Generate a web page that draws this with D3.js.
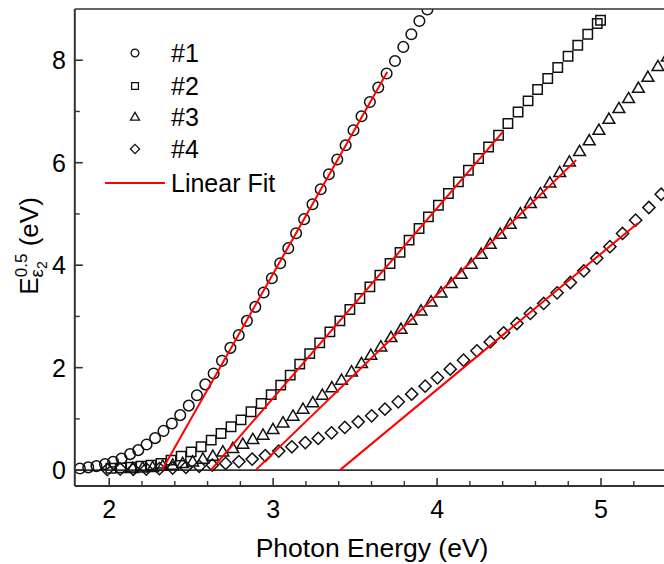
<!DOCTYPE html>
<html><head><meta charset="utf-8">
<script src="https://cdn.jsdelivr.net/npm/d3@7"></script>
<style>body{margin:0;background:#fff}svg{display:block}</style>
</head><body><svg id="c" width="664" height="564"></svg>
<script>
// ---------- data (Photon energy eV, E*eps2^0.5 eV) ----------
const s1 = [[1.821,0.033],[1.872,0.053],[1.922,0.078],[1.974,0.117],[2.024,0.162],[2.075,0.228],[2.127,0.312],[2.177,0.390],[2.228,0.501],[2.280,0.624],[2.331,0.765],[2.382,0.911],[2.433,1.073],[2.485,1.259],[2.535,1.460],[2.586,1.674],[2.637,1.887],[2.688,2.133],[2.739,2.386],[2.790,2.634],[2.840,2.913],[2.891,3.186],[2.942,3.467],[2.992,3.746],[3.043,4.039],[3.092,4.332],[3.140,4.624],[3.189,4.898],[3.240,5.190],[3.290,5.483],[3.340,5.776],[3.391,6.062],[3.442,6.341],[3.490,6.634],[3.539,6.907],[3.590,7.186],[3.641,7.467],[3.692,7.740],[3.743,7.986],[3.794,8.260],[3.843,8.507],[3.892,8.767],[3.941,8.989]];
const s2 = [[2.010,0.035],[2.072,0.043],[2.133,0.055],[2.194,0.078],[2.255,0.098],[2.316,0.131],[2.377,0.195],[2.439,0.273],[2.500,0.357],[2.561,0.455],[2.622,0.585],[2.682,0.716],[2.743,0.845],[2.804,0.981],[2.865,1.138],[2.927,1.301],[2.988,1.473],[3.046,1.659],[3.104,1.854],[3.162,2.068],[3.223,2.273],[3.284,2.484],[3.346,2.699],[3.407,2.913],[3.468,3.136],[3.529,3.350],[3.590,3.577],[3.651,3.805],[3.713,4.033],[3.774,4.250],[3.829,4.488],[3.890,4.716],[3.947,4.943],[4.008,5.171],[4.069,5.399],[4.130,5.625],[4.191,5.854],[4.253,6.082],[4.314,6.308],[4.375,6.537],[4.432,6.765],[4.494,6.991],[4.555,7.206],[4.613,7.428],[4.675,7.643],[4.736,7.857],[4.799,8.078],[4.858,8.293],[4.919,8.507],[4.977,8.716],[4.997,8.780]];
const s3 = [[2.143,0.035],[2.204,0.043],[2.265,0.053],[2.326,0.078],[2.387,0.098],[2.448,0.131],[2.509,0.162],[2.571,0.215],[2.632,0.273],[2.693,0.357],[2.754,0.423],[2.815,0.507],[2.876,0.599],[2.938,0.683],[2.999,0.794],[3.060,0.923],[3.121,1.054],[3.182,1.190],[3.242,1.317],[3.300,1.463],[3.358,1.610],[3.417,1.756],[3.478,1.918],[3.539,2.082],[3.596,2.244],[3.657,2.406],[3.719,2.589],[3.780,2.751],[3.841,2.927],[3.902,3.108],[3.963,3.284],[4.024,3.460],[4.086,3.643],[4.147,3.824],[4.208,4.020],[4.269,4.215],[4.324,4.410],[4.385,4.605],[4.446,4.800],[4.508,5.005],[4.569,5.204],[4.630,5.399],[4.688,5.606],[4.748,5.809],[4.807,6.016],[4.869,6.220],[4.928,6.429],[4.987,6.634],[5.048,6.849],[5.109,7.058],[5.168,7.253],[5.228,7.454],[5.286,7.668],[5.347,7.877],[5.405,8.064]];
const s4 = [[1.988,0.010],[2.067,0.020],[2.147,0.016],[2.226,0.020],[2.306,0.029],[2.387,0.039],[2.468,0.053],[2.549,0.074],[2.629,0.098],[2.710,0.131],[2.791,0.166],[2.872,0.215],[2.952,0.283],[3.034,0.371],[3.114,0.455],[3.196,0.537],[3.275,0.619],[3.356,0.728],[3.437,0.833],[3.519,0.942],[3.601,1.060],[3.682,1.190],[3.763,1.333],[3.845,1.483],[3.927,1.639],[4.002,1.801],[4.080,1.971],[4.161,2.146],[4.243,2.328],[4.324,2.503],[4.406,2.679],[4.487,2.862],[4.569,3.058],[4.650,3.253],[4.732,3.460],[4.813,3.662],[4.895,3.889],[4.974,4.137],[5.054,4.361],[5.131,4.619],[5.211,4.878],[5.292,5.126],[5.367,5.385],[5.443,5.649]];
// linear fits: [start point, end point]
const fit1 = [[2.322,0],[3.696,7.77]];
const fit2 = [[2.620,0],[4.405,6.615]];
const fit3 = [[2.893,0],[4.848,6.05]];
const fit4 = [[3.407,0],[5.226,4.825]];
const seriesNames = ["#1","#2","#3","#4"];
const fitName = "Linear Fit";
const xMajor = [2,3,4,5];
const xMinor = [2.2,2.4,2.6,2.8,3.2,3.4,3.6,3.8,4.2,4.4,4.6,4.8,5.2,5.4];
const yMajor = [0,2,4,6,8];
const yMinor = [1,3,5,7];
const xTitle = "Photon Energy (eV)";

// ---------- layout ----------
const svg = d3.select("#c");
const L = 74.8, T = 9, B = 486, R = 683;
const x = d3.scaleLinear().domain([1.79, 5.5]).range([L, R]);
const y = d3.scaleLinear().domain([-0.31, 9.0]).range([B, T]);
const axisColor = "#333";
const font = "Arial, 'Liberation Sans', Helvetica, sans-serif";

svg.append("defs").append("clipPath").attr("id","plot")
  .append("rect").attr("x",L).attr("y",T).attr("width",R-L).attr("height",B-T);

const shapes = {
  circle: r => `M${-r},0A${r},${r} 0 1,0 ${r},0A${r},${r} 0 1,0 ${-r},0Z`,
  square: r => `M${-r},${-r}H${r}V${r}H${-r}Z`,
  triangle: r => { const h = r*1.73; return `M0,${-h*0.6}L${r},${h*0.4}L${-r},${h*0.4}Z`; },
  diamond: r => `M0,${-r}L${r},0L0,${r}L${-r},0Z`
};
const kinds = ["circle","square","triangle","diamond"];
const markerSize = [5.3, 4.7, 5.9, 6.1];
const legendSize = [3.9, 3.4, 4.5, 4.6];

// zero line
svg.append("line").attr("x1",L).attr("x2",R).attr("y1",y(0)).attr("y2",y(0))
  .attr("stroke",axisColor).attr("stroke-width",1.6);

// markers
const g = svg.append("g").attr("clip-path","url(#plot)");
[s1,s2,s3,s4].forEach((s,i) => {
  g.selectAll(null).data(s).enter().append("path")
    .attr("d", shapes[kinds[i]](markerSize[i]))
    .attr("transform", d => `translate(${x(d[0])},${y(d[1])})`)
    .attr("fill","none").attr("stroke","#111").attr("stroke-width",1.5);
});

// fits
const line = d3.line().x(d => x(d[0])).y(d => y(d[1]));
[fit1,fit2,fit3,fit4].forEach(f => {
  g.append("path").attr("d", line(f)).attr("fill","none")
    .attr("stroke","#f00").attr("stroke-width",2);
});

// axes frame
svg.append("line").attr("x1",L).attr("x2",R).attr("y1",T).attr("y2",T).attr("stroke",axisColor).attr("stroke-width",1.6);
svg.append("line").attr("x1",L).attr("x2",L).attr("y1",T).attr("y2",B).attr("stroke",axisColor).attr("stroke-width",2);
svg.append("line").attr("x1",L).attr("x2",R).attr("y1",B).attr("y2",B).attr("stroke",axisColor).attr("stroke-width",2);

// x ticks (inward)
const xa = svg.append("g");
xa.selectAll(null).data(xMajor).enter().append("line")
  .attr("x1",d=>x(d)).attr("x2",d=>x(d)).attr("y1",B).attr("y2",B-8)
  .attr("stroke",axisColor).attr("stroke-width",1.6);
xa.selectAll(null).data(xMinor).enter().append("line")
  .attr("x1",d=>x(d)).attr("x2",d=>x(d)).attr("y1",B).attr("y2",B-5)
  .attr("stroke",axisColor).attr("stroke-width",1.4);
xa.selectAll(null).data(xMajor).enter().append("text")
  .attr("x",d=>x(d)).attr("y",518).attr("text-anchor","middle")
  .style("font-family",font).style("font-size","25px").text(d=>d);
// y ticks
const ya = svg.append("g");
ya.selectAll(null).data(yMajor).enter().append("line")
  .attr("x1",L).attr("x2",L+8).attr("y1",d=>y(d)).attr("y2",d=>y(d))
  .attr("stroke",axisColor).attr("stroke-width",1.6);
ya.selectAll(null).data(yMinor).enter().append("line")
  .attr("x1",L).attr("x2",L+5).attr("y1",d=>y(d)).attr("y2",d=>y(d))
  .attr("stroke",axisColor).attr("stroke-width",1.4);
ya.selectAll(null).data(yMajor).enter().append("text")
  .attr("x",66).attr("y",d=>y(d)+9).attr("text-anchor","end")
  .style("font-family",font).style("font-size","25px").text(d=>d);

// axis titles
svg.append("text").attr("x",372).attr("y",557).attr("text-anchor","middle")
  .style("font-family",font).style("font-size","26.5px").text(xTitle);
const yl = svg.append("text").attr("transform","translate(38,246) rotate(-90)")
  .attr("text-anchor","middle").style("font-family",font).style("font-size","26px");
yl.append("tspan").text("E");
yl.append("tspan").attr("dy",5).style("font-size","19px").text("ε");
yl.append("tspan").attr("dy",4).style("font-size","14px").text("2");
yl.append("tspan").attr("dx",-16).attr("dy",-20).style("font-size","17px").text("0.5");
yl.append("tspan").attr("dy",11).text(" (eV)");

// legend
const rows = [53, 86, 117, 149];
const lg = svg.append("g");
seriesNames.forEach((n,i) => {
  lg.append("path").attr("d", shapes[kinds[i]](legendSize[i]))
    .attr("transform",`translate(135,${rows[i]})`)
    .attr("fill","none").attr("stroke","#111").attr("stroke-width",1.3);
  lg.append("text").attr("x",171).attr("y",rows[i]+9).style("font-family",font)
    .style("font-size","25px").text(n);
});
lg.append("line").attr("x1",105).attr("x2",165).attr("y1",183).attr("y2",183)
  .attr("stroke","#f00").attr("stroke-width",2);
lg.append("text").attr("x",171).attr("y",192).style("font-family",font)
  .style("font-size","25px").text(fitName);
</script></body></html>
